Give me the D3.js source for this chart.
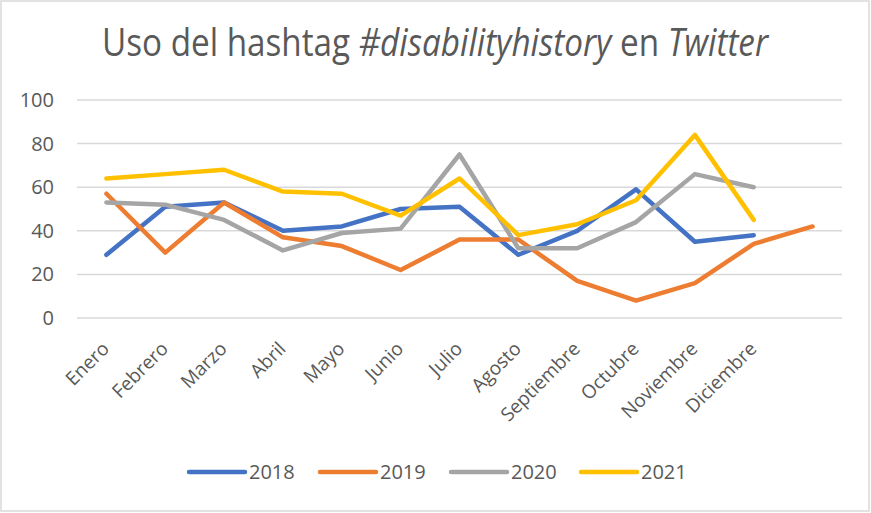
<!DOCTYPE html>
<meta charset="utf-8">
<style>
body { margin: 0; background: #fff; }
text { fill: #595959; }
.grid line { stroke: #d9d9d9; stroke-width: 1.5; }
.serie { fill: none; stroke-width: 4.5; stroke-linejoin: round; stroke-linecap: round; }
</style>
<body>
<script src="https://cdn.jsdelivr.net/npm/d3@7"></script>
<script>

// datos
var meses = ["Enero", "Febrero", "Marzo", "Abril", "Mayo", "Junio", "Julio",
             "Agosto", "Septiembre", "Octubre", "Noviembre", "Diciembre", ""];
var anios = ["2018", "2019", "2020", "2021"];
var v2018 = [29, 51, 53, 40, 42, 50, 51, 29, 40, 59, 35, 38];
var v2019 = [57, 30, 53, 37, 33, 22, 36, 36, 17, 8, 16, 34, 42];
var v2020 = [53, 52, 45, 31, 39, 41, 75, 32, 32, 44, 66, 60];
var v2021 = [64, 66, 68, 58, 57, 47, 64, 38, 43, 54, 84, 45];
var yTicks = [0, 20, 40, 60, 80, 100];
var colores = ["#4472c4", "#ed7d31", "#a5a5a5", "#ffc000"];

var series = [v2018, v2019, v2020, v2021];

var width = 871, height = 513;
var margin = {top: 100, right: 29, bottom: 195, left: 77};

var svg = d3.select("body").append("svg")
    .attr("width", width)
    .attr("height", height);

// borde del area del grafico
svg.append("rect")
    .attr("x", 1).attr("y", 1)
    .attr("width", width - 3).attr("height", height - 3)
    .attr("fill", "#fff")
    .attr("stroke", "#d9d9d9")
    .attr("stroke-width", 1.5);

var x = d3.scaleBand()
    .domain(meses.map(function(d, i) { return i; }))
    .range([margin.left, width - margin.right]);

var y = d3.scaleLinear()
    .domain([0, 100])
    .range([height - margin.bottom, margin.top]);

// titulo (fuente estrecha simulada con escala horizontal)
var titulo = svg.append("text")
    .attr("text-anchor", "middle")
    .attr("transform", "translate(435,56) scale(0.875,1)")
    .style("font-family", "'Open Sans', sans-serif")
    .style("font-size", "38px");
titulo.append("tspan").text("Uso del hashtag ");
titulo.append("tspan").style("font-style", "italic").text("#disabilityhistory");
titulo.append("tspan").text(" en ");
titulo.append("tspan").style("font-style", "italic").text("Twitter");

// lineas de cuadricula
svg.append("g")
    .attr("class", "grid")
    .selectAll("line")
    .data(yTicks)
  .enter().append("line")
    .attr("x1", margin.left)
    .attr("x2", width - margin.right)
    .attr("y1", function(d) { return y(d); })
    .attr("y2", function(d) { return y(d); });

// eje y
var yAxis = svg.append("g")
    .attr("transform", "translate(" + margin.left + ",0)")
    .call(d3.axisLeft(y).tickValues(yTicks).tickSize(0).tickPadding(23));
yAxis.select(".domain").remove();
yAxis.selectAll("text")
    .style("font-family", "'Open Sans', sans-serif")
    .style("font-size", "20px")
    .style("fill", "#595959");

// eje x con etiquetas giradas
svg.append("g")
    .selectAll("text")
    .data(meses)
  .enter().append("text")
    .attr("text-anchor", "end")
    .attr("transform", function(d, i) {
      return "translate(" + (x(i) + x.bandwidth() / 2 + 4) + "," + 350 + ") rotate(-45)";
    })
    .style("font-family", "'Open Sans', sans-serif")
    .style("font-size", "19px")
    .text(function(d) { return d; });

var line = d3.line()
    .x(function(d, i) { return x(i) + x.bandwidth() / 2; })
    .y(function(d) { return y(d); });

svg.append("g")
    .selectAll("path")
    .data(series)
  .enter().append("path")
    .attr("class", "serie")
    .attr("stroke", function(d, i) { return colores[i]; })
    .attr("d", line);

// leyenda
var leyendaX = [189, 320, 451, 581];
var leyenda = svg.append("g")
    .selectAll("g")
    .data(anios)
  .enter().append("g")
    .attr("transform", function(d, i) { return "translate(" + leyendaX[i] + ",472)"; });
leyenda.append("line")
    .attr("x1", 0).attr("x2", 56)
    .attr("stroke", function(d, i) { return colores[i]; })
    .attr("stroke-width", 4.5)
    .attr("stroke-linecap", "round");
leyenda.append("text")
    .attr("x", 60)
    .attr("dy", "0.35em")
    .style("font-family", "'Open Sans', sans-serif")
    .style("font-size", "20px")
    .text(function(d) { return d; });

</script>
</body>
